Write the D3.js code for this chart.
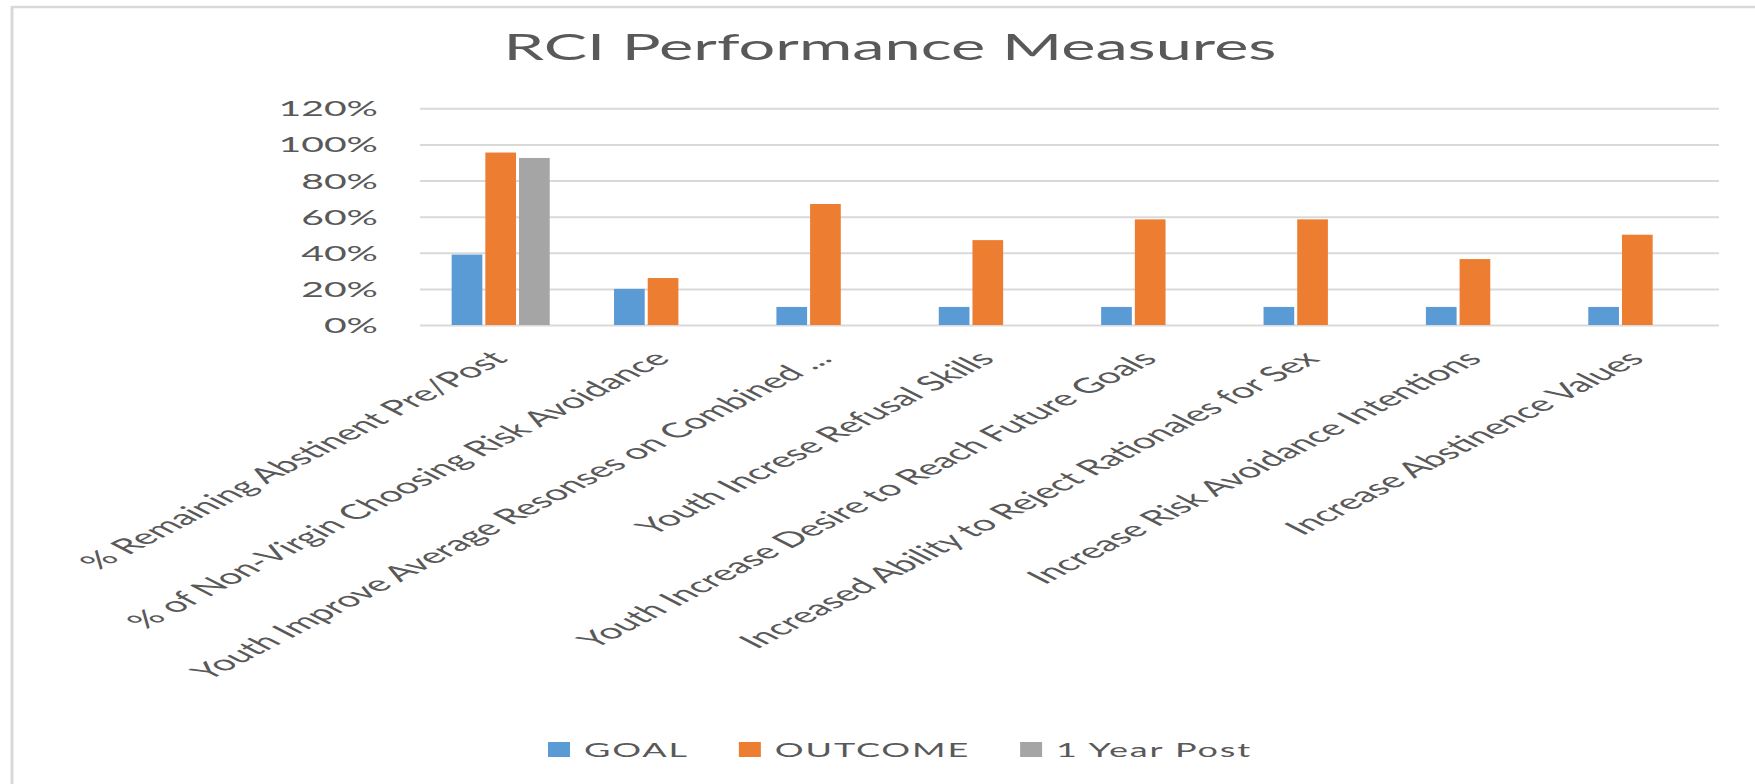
<!DOCTYPE html>
<html>
<head>
<meta charset="utf-8">
<script src="https://cdn.jsdelivr.net/npm/d3@7"></script>
<style>
  html, body { margin: 0; padding: 0; background: #fff; }
  svg { display: block; }
  text { font-family: Lato, "Open Sans", sans-serif; fill: #595959; }
</style>
</head>
<body>
<svg id="chart" width="1755" height="784"></svg>
<script>
// ---- data ----
const categories = [
  "% Remaining Abstinent Pre/Post",
  "% of Non-Virgin Choosing Risk  Avoidance",
  "Youth Improve Average Resonses on Combined ...",
  "Youth Increse Refusal Skills",
  "Youth Increase Desire to Reach Future Goals",
  "Increased Ability to Reject Rationales for Sex",
  "Increase Risk Avoidance Intentions",
  "Increase Abstinence Values"
];
const seriesNames = ["GOAL", "OUTCOME", "1 Year Post"];
const goal     = [0.39, 0.20, 0.10, 0.10, 0.10, 0.10, 0.10, 0.10];
const outcome  = [0.955, 0.26, 0.67, 0.47, 0.585, 0.585, 0.365, 0.50];
const yearPost = [0.925, null, null, null, null, null, null, null];
const yTicks = [0, 0.2, 0.4, 0.6, 0.8, 1.0, 1.2];
const seriesColors = ["#5b9bd5", "#ed7d31", "#a5a5a5"];

// ---- layout ----
const W = 1755, H = 784;
const plot = { left: 420, right: 1719, top: 108.3, bottom: 325 };
const HS = 1.78;     // horizontal stretch of the original picture (text)
const LS = 1.95;     // stretch applied to rotated category labels

const svg = d3.select("#chart");

// frame
svg.append("line").attr("x1", 11).attr("x2", W).attr("y1", 7).attr("y2", 7)
  .attr("stroke", "#d9d9d9").attr("stroke-width", 2.5);
svg.append("line").attr("x1", 12).attr("x2", 12).attr("y1", 6).attr("y2", H)
  .attr("stroke", "#d9d9d9").attr("stroke-width", 3);

// title
svg.append("text")
  .attr("transform", `translate(890,60) scale(1.73,1)`)
  .attr("text-anchor", "middle")
  .attr("font-size", 37.5)
  .text("RCI Performance Measures");

// scales
const y = d3.scaleLinear().domain([0, 1.2]).range([plot.bottom, plot.top]);
const x0 = d3.scaleBand().domain(d3.range(categories.length))
  .range([plot.left, plot.right]).paddingInner(0).paddingOuter(0);
const x1 = d3.scaleBand().domain(d3.range(seriesNames.length))
  .range([0, x0.bandwidth()]).paddingInner(0).paddingOuter(0.91);

// gridlines
const yAxis = d3.axisLeft(y).tickValues(yTicks)
  .tickSize(-(plot.right - plot.left)).tickFormat("");
const gAxis = svg.append("g").attr("transform", `translate(${plot.left},0)`).call(yAxis);
gAxis.select(".domain").remove();
gAxis.selectAll(".tick line").attr("stroke", "#d9d9d9").attr("stroke-width", 2);

// y tick labels
svg.append("g").selectAll("text").data(yTicks).join("text")
  .attr("transform", d => `translate(378,${y(d) + 8}) scale(${HS},1)`)
  .attr("text-anchor", "end")
  .attr("font-size", 22)
  .text(d => d3.format(".0%")(d));

// bars
const seriesData = [goal, outcome, yearPost];
const barW = x1.bandwidth() - 3;
const gBars = svg.append("g");
seriesData.forEach((vals, s) => {
  gBars.append("g").selectAll("rect")
    .data(vals.map((v, i) => ({ v, i })).filter(d => d.v != null))
    .join("rect")
    .attr("x", d => x0(d.i) + x1(s) + 1)
    .attr("y", d => y(d.v))
    .attr("width", barW)
    .attr("height", d => y(0) - y(d.v))
    .attr("fill", seriesColors[s]);
});

// category labels (rotated, stretched)
svg.append("g").selectAll("text").data(categories).join("text")
  .attr("transform", (d, i) =>
    `translate(${x0(i) + x0.bandwidth() / 2 + 8},360) scale(${LS},1) rotate(-45)`)
  .attr("text-anchor", "end")
  .attr("font-size", 21)
  .text(d => d);

// legend
const legendY = 757;
const lg = svg.append("g");
const items = [];
seriesNames.forEach((name, s) => {
  const g = lg.append("g");
  g.append("rect").attr("x", 0).attr("y", -15).attr("width", 22).attr("height", 15)
    .attr("fill", seriesColors[s]);
  const t = g.append("text").attr("transform", `translate(36,0) scale(1.85,1)`)
    .attr("font-size", 19.5).attr("letter-spacing", 1).text(name);
  const w = 36 + t.node().getComputedTextLength() * 1.85;
  items.push({ g, w });
});
const gap = 50;
const totalW = d3.sum(items, d => d.w) + gap * (items.length - 1);
let cx = 900 - totalW / 2;
items.forEach(it => {
  it.g.attr("transform", `translate(${cx},${legendY})`);
  cx += it.w + gap;
});
</script>
</body>
</html>
